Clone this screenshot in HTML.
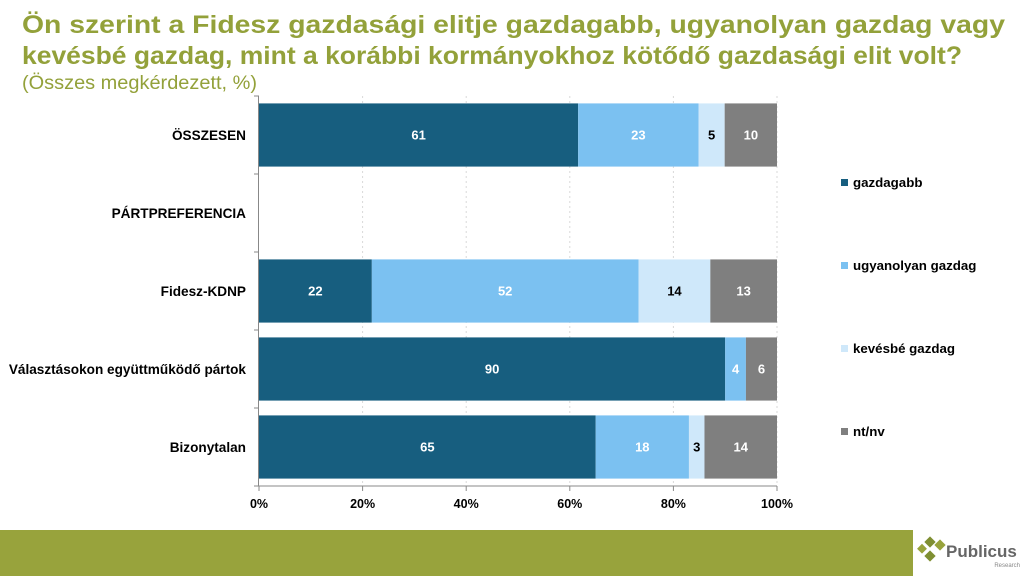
<!DOCTYPE html>
<html><head><meta charset="utf-8"><style>
body{margin:0;width:1024px;height:576px;overflow:hidden;background:#fff;font-family:"Liberation Sans",sans-serif}
svg{display:block}
</style></head><body>
<svg id="c" width="1024" height="576">
<text x="22" y="33" font-size="25" font-weight="bold" fill="#93a13a" textLength="983" lengthAdjust="spacingAndGlyphs">Ön szerint a Fidesz gazdasági elitje gazdagabb, ugyanolyan gazdag vagy</text>
<text x="22" y="64" font-size="25" font-weight="bold" fill="#93a13a" textLength="940" lengthAdjust="spacingAndGlyphs">kevésbé gazdag, mint a korábbi kormányokhoz kötődő gazdasági elit volt?</text>
<text x="22" y="89" font-size="19" fill="#93a13a" textLength="235" lengthAdjust="spacingAndGlyphs">(Összes megkérdezett, %)</text>
<g id="plot"></g>
<rect x="0" y="530" width="913" height="46" fill="#98a33c"/>
<g>
<rect x="926" y="538" width="8" height="8" fill="#7f8f32" transform="rotate(45 930 542)"/>
<rect x="936" y="541" width="8" height="8" fill="#98a33c" transform="rotate(45 940 545)"/>
<rect x="919" y="545" width="7" height="7" fill="#98a33c" transform="rotate(45 922 548)"/>
<rect x="926" y="552" width="8" height="8" fill="#7f8f32" transform="rotate(45 930 556)"/>
<text x="946" y="557" font-size="17" font-weight="bold" fill="#666">Publicus</text>
<text x="1020" y="567" font-size="6" fill="#888" text-anchor="end">Research</text>
</g>
</svg>
<script>
const categories=["ÖSSZESEN","PÁRTPREFERENCIA","Fidesz-KDNP","Választásokon együttműködő pártok","Bizonytalan"];
const seriesNames=["gazdagabb","ugyanolyan gazdag","kevésbé gazdag","nt/nv"];
const gazdagabb=[61,null,22,90,65];
const ugyanolyan=[23,null,52,4,18];
const kevesbe=[5,null,14,0,3];
const ntnv=[10,null,13,6,14];
const tickLabels=["0%","20%","40%","60%","80%","100%"];
const colors=["#175e7f","#7bc1f1","#cfe8fa","#7f7f7f"];
const textCols=["#fff","#fff","#000","#fff"];
const series=[gazdagabb,ugyanolyan,kevesbe,ntnv];
const NS="http://www.w3.org/2000/svg";
const g=document.getElementById("plot");
const x0=259,x1=777,yTop=96,yBot=486;
const band=(yBot-yTop)/categories.length;
const xs=v=>x0+(x1-x0)*v/100;
const yc=i=>yTop+band*i+band/2;
function mk(t,a){const e=document.createElementNS(NS,t);for(const k in a)e.setAttribute(k,a[k]);g.appendChild(e);return e;}
tickLabels.forEach((t,i)=>{const v=i*20;
 if(i>0){const l=mk("line",{x1:xs(v),x2:xs(v),y1:yTop,y2:yBot,stroke:"#d9d9d9","stroke-dasharray":"2,3"});
 
 }
 const tx=mk("text",{x:xs(v),y:yBot+22,"font-size":12.5,"font-weight":"bold","text-anchor":"middle",fill:"#000"});tx.textContent=t;
 
 
 mk("line",{x1:xs(v),x2:xs(v),y1:yBot,y2:yBot+5,stroke:"#888"});
});
categories.forEach((c,i)=>{
 const lb=mk("text",{x:246,y:yc(i)+5,"font-size":13.6,"font-weight":"bold","text-anchor":"end",fill:"#000"});lb.textContent=c;
 
 
 mk("line",{x1:x0-5,x2:x0,y1:yTop+band*i,y2:yTop+band*i,stroke:"#888"});
 const vals=series.map(s=>s[i]);
 if(vals[0]===null)return;
 const tot=vals.reduce((a,b)=>a+b,0);let acc=0;
 const h=band*0.81;
 vals.forEach((v,j)=>{if(!v){return;}
  const xa=xs(acc/tot*100),xb=xs((acc+v)/tot*100);acc+=v;
  const r=mk("rect",{x:xa,y:yc(i)-h/2,width:xb-xa,height:h,fill:colors[j]});
  
  
  const t=mk("text",{x:(xa+xb)/2,y:yc(i)+4.5,"font-size":13,"font-weight":"bold","text-anchor":"middle",fill:textCols[j]});t.textContent=v;
  
  
 });
});
mk("line",{x1:x0-0.5,x2:x0-0.5,y1:yTop,y2:yBot,stroke:"#888"});
mk("line",{x1:x0-5,x2:x1,y1:yBot,y2:yBot,stroke:"#888"});
seriesNames.forEach((n,j)=>{const y=183+j*83;
 const r=mk("rect",{x:841,y:y-4,width:7,height:7,fill:colors[j]});
 
 
 const t=mk("text",{x:853,y:y+4,"font-size":13.3,"font-weight":"bold",fill:"#000"});t.textContent=n;
 
 
});
</script>
</body></html>
